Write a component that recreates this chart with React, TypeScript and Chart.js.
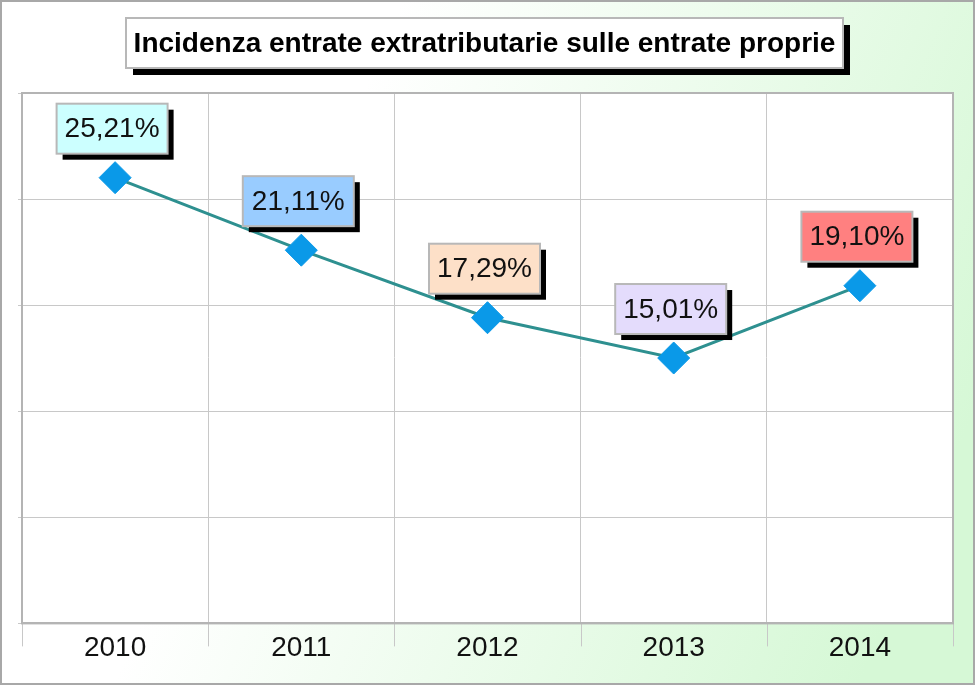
import React, { useEffect, useRef } from 'react';
import { Chart, registerables } from 'chart.js';

Chart.register(...registerables);

const categories = ['2010', '2011', '2012', '2013', '2014'];
const values = [25.21, 21.11, 17.29, 15.01, 19.1];
const valueLabels = ['25,21%', '21,11%', '17,29%', '15,01%', '19,10%'];
const labelColors = ['#ccffff', '#99ccff', '#fde0c8', '#e4dcfc', '#ff8080'];
const yMin = 0;
const yMax = 30;
const yStep = 6;
const titleText = 'Incidenza entrate extratributarie sulle entrate proprie';

const FONT = '"Liberation Sans", Arial, sans-serif';

const decorPlugin = {
  id: 'decor',
  beforeDraw(chart: any) {
    const { ctx, width, height, chartArea } = chart;
    ctx.save();
    const g = ctx.createLinearGradient(0, 0, width, height * 0.6);
    g.addColorStop(0, '#ffffff');
    g.addColorStop(0.35, '#ffffff');
    g.addColorStop(1, '#d6f8d6');
    ctx.fillStyle = g;
    ctx.fillRect(0, 0, width, height);
    ctx.strokeStyle = '#a8a8a8';
    ctx.lineWidth = 2;
    ctx.strokeRect(1, 1, width - 2, height - 2);
    ctx.fillStyle = '#ffffff';
    ctx.fillRect(chartArea.left, chartArea.top, chartArea.right - chartArea.left, chartArea.bottom - chartArea.top);
    ctx.restore();
  },
  afterDraw(chart: any) {
    const { ctx, chartArea } = chart;
    const xs = chart.scales.x;
    ctx.save();
    // category boundary tick marks below the plot
    ctx.strokeStyle = '#c8c8c8';
    ctx.lineWidth = 1;
    const n = categories.length;
    const half = n > 1 ? (xs.getPixelForValue(1) - xs.getPixelForValue(0)) / 2 : 0;
    for (let i = 0; i <= n; i++) {
      const px = Math.round(xs.getPixelForValue(Math.min(i, n - 1)) + (i === n ? half : -half)) + 0.5;
      ctx.beginPath();
      ctx.moveTo(px, chartArea.bottom);
      ctx.lineTo(px, chartArea.bottom + 23);
      ctx.stroke();
    }
    ctx.strokeStyle = '#b4b4b4';
    ctx.lineWidth = 2;
    ctx.strokeRect(chartArea.left, chartArea.top, chartArea.right - chartArea.left, chartArea.bottom - chartArea.top);
    // title box
    const bx = 126, by = 18, bw = 717, bh = 50;
    ctx.fillStyle = '#000000';
    ctx.fillRect(bx + 7, by + 7, bw, bh);
    ctx.fillStyle = '#ffffff';
    ctx.fillRect(bx, by, bw, bh);
    ctx.strokeStyle = '#b8b8b8';
    ctx.lineWidth = 2;
    ctx.strokeRect(bx, by, bw, bh);
    ctx.fillStyle = '#000000';
    ctx.font = `bold 28px ${FONT}`;
    ctx.textAlign = 'center';
    ctx.textBaseline = 'middle';
    ctx.fillText(titleText, bx + bw / 2, by + bh / 2 + 1);
    ctx.restore();
  },
  afterDatasetsDraw(chart: any) {
    const { ctx } = chart;
    const meta = chart.getDatasetMeta(0);
    ctx.save();
    ctx.font = `28px ${FONT}`;
    ctx.textAlign = 'center';
    ctx.textBaseline = 'middle';
    meta.data.forEach((pt: any, i: number) => {
      const w = 111, h = 50;
      const cx = pt.x - 3;
      const bottom = pt.y - 24;
      const x0 = cx - w / 2, y0 = bottom - h;
      ctx.fillStyle = '#000000';
      ctx.fillRect(x0 + 6, y0 + 6, w, h);
      ctx.fillStyle = labelColors[i];
      ctx.fillRect(x0, y0, w, h);
      ctx.strokeStyle = '#b8b8b8';
      ctx.lineWidth = 2;
      ctx.strokeRect(x0, y0, w, h);
      ctx.fillStyle = '#111111';
      ctx.fillText(valueLabels[i], cx, y0 + h / 2 + 1);
    });
    ctx.restore();
  },
};

export default function App() {
  const ref = useRef<HTMLCanvasElement | null>(null);
  useEffect(() => {
    document.body.style.margin = '0';
    const canvas = ref.current!;
    const chart = new Chart(canvas, {
      type: 'line',
      data: {
        labels: categories,
        datasets: [
          {
            data: values,
            borderColor: '#2e9090',
            borderWidth: 3,
            pointStyle: 'rectRot',
            pointRadius: 16,
            pointBackgroundColor: '#0a99e8',
            pointBorderColor: '#0a99e8',
            pointBorderWidth: 1,
            tension: 0,
            fill: false,
          },
        ],
      },
      options: {
        animation: false,
        responsive: false,
        maintainAspectRatio: false,
        events: [],
        layout: { padding: { left: 18, right: 22, top: 93, bottom: 12 } },
        plugins: { legend: { display: false }, title: { display: false }, tooltip: { enabled: false } },
        scales: {
          x: {
            type: 'category',
            offset: true,
            grid: { offset: true, color: '#c8c8c8', lineWidth: 1, drawTicks: false },
            border: { display: true, color: '#b4b4b4', width: 2 },
            ticks: { color: '#111111', font: { family: FONT, size: 28 }, padding: 8 },
          },
          y: {
            min: yMin,
            max: yMax,
            ticks: { stepSize: yStep, display: false },
            grid: { color: '#c8c8c8', lineWidth: 1, tickLength: 4, drawTicks: true },
            border: { display: true, color: '#b4b4b4', width: 2 },
          },
        },
      },
      plugins: [decorPlugin],
    });
    return () => chart.destroy();
  }, []);
  return (
    <div style={{ width: 975, height: 685 }}>
      <canvas ref={ref} width={975} height={685} style={{ display: 'block' }} />
    </div>
  );
}
